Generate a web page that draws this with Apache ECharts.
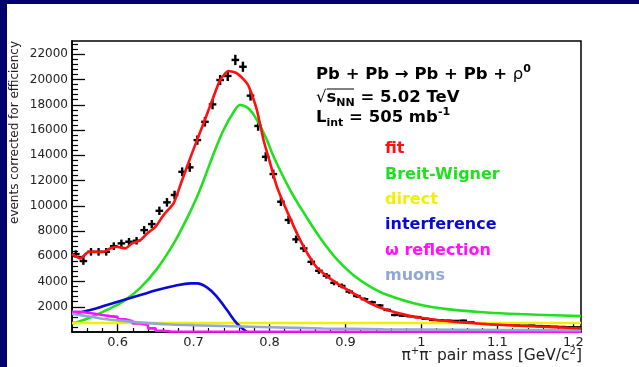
<!DOCTYPE html>
<html><head><meta charset="utf-8">
<script src="https://cdn.jsdelivr.net/npm/echarts@6/dist/echarts.min.js"></script>
<style>html,body{margin:0;padding:0;background:#000070;} #c{width:639px;height:367px;}</style>
</head><body><div id="c"></div>
<script>
// ---- data ----
const massBins = [0.545,0.555,0.565,0.575,0.585,0.595,0.605,0.615,0.625,0.635,0.645,0.655,0.665,0.675,0.685,0.695,0.705,0.715,0.725,0.735,0.745,0.755,0.765,0.775,0.785,0.795,0.805,0.815,0.825,0.835,0.845,0.855,0.865,0.875,0.885,0.895,0.905,0.915,0.925,0.935,0.945,0.955,0.965,0.975,0.985,0.995,1.005,1.015,1.025,1.035,1.045,1.055,1.065,1.075,1.085,1.095,1.105,1.115,1.125,1.135,1.145,1.155,1.165,1.175,1.185,1.195,1.205];
const counts = [6170,5620,6350,6350,6350,6800,7020,7150,7230,8070,8550,9600,10270,10850,12690,13040,15200,16650,18030,19960,20280,21550,21010,18720,16320,13880,12510,10320,8870,7340,6620,5560,4850,4450,3900,3650,3200,2850,2600,2350,2100,1750,1350,1300,1250,1180,1050,950,930,900,880,900,780,700,650,620,600,560,530,500,520,470,450,420,400,380,370];
const errors = [300,300,300,300,300,300,300,300,300,320,320,330,340,340,350,350,370,380,390,400,400,410,400,390,380,360,350,340,320,300,290,270,250,220,200,190,170,150,140,130,120,110,100,100,90,90,80,80,80,70,70,70,60,60,60,50,50,50,50,50,50,50,40,40,40,40,40];
const halfBin = 0.005;

const fitX = [0.540,0.551,0.562,0.5816,0.590,0.599,0.610,0.619,0.630,0.639,0.650,0.6605,0.6737,0.683,0.6979,0.7132,0.7263,0.7351,0.746,0.7571,0.7703,0.7746,0.7834,0.7921,0.8009,0.8097,0.8272,0.8426,0.8579,0.8667,0.8887,0.9105,0.9325,0.9545,0.9763,0.9983,1.0421,1.0861,1.1299,1.1737,1.21];
const fitY = [6170,5830,6350,6350,6620,6750,6620,7020,7280,7810,8340,9260,10190,11700,14150,16530,18640,19960,20670,20490,19700,19170,17580,15210,13360,11510,9000,7020,5440,4850,3850,3060,2270,1735,1395,1125,808,626,491,388,280];

const bwX = [0.540,0.5443,0.564,0.586,0.6079,0.6299,0.6518,0.6737,0.6913,0.7045,0.7132,0.7263,0.7395,0.7526,0.7614,0.7724,0.7834,0.7966,0.8053,0.8272,0.8492,0.8667,0.8887,0.9105,0.9325,0.9545,0.9983,1.0421,1.0861,1.1299,1.1737,1.21];
const bwY = [680,729,1150,1750,2450,3500,5000,7000,9000,10700,12000,14100,16000,17400,17980,17700,16800,15200,13900,11244,9050,7450,5750,4500,3600,2950,2150,1750,1550,1420,1330,1260];

const interfX = [0.540,0.5443,0.5641,0.586,0.608,0.630,0.652,0.674,0.696,0.7045,0.7176,0.7308,0.744,0.757,0.770];
const interfY = [1420,1474,1735,2131,2528,2924,3320,3637,3850,3851,3534,2789,1735,681,0];

const directX = [0.54,1.21];
const directY = [710,710];

const omegaEdges = [0.54,0.55,0.56,0.57,0.58,0.59,0.60,0.61,0.62,0.63,0.64,0.65,0.66,0.67,1.21];
const omegaY = [1600,1520,1450,1350,1260,1200,1000,850,680,550,290,100,40,25,25];

const muonX = [0.54,0.56,0.58,0.60,0.62,0.64,0.67,0.70,0.75,0.80,0.87,0.95,1.05,1.21];
const muonY = [1450,1250,1050,920,800,700,600,540,460,380,280,220,180,140];

const xMajorTicks = [0.6,0.7,0.8,0.9,1.0,1.1,1.2];
const xMinorTicks = [0.56,0.58,0.62,0.64,0.66,0.68,0.72,0.74,0.76,0.78,0.82,0.84,0.86,0.88,0.92,0.94,0.96,0.98,1.02,1.04,1.06,1.08,1.12,1.14,1.16,1.18,1.2];
const yMajorTicks = [2000,4000,6000,8000,10000,12000,14000,16000,18000,20000,22000];
const yMinorTicks = [400,800,1200,1600,2400,2800,3200,3600,4400,4800,5200,5600,6400,6800,7200,7600,8400,8800,9200,9600,10400,10800,11200,11600,12400,12800,13200,13600,14400,14800,15200,15600,16400,16800,17200,17600,18400,18800,19200,19600,20400,20800,21200,21600,22400,22800];

const seriesNames = ['fit','Breit-Wigner','direct','interference','ω reflection','muons'];
const seriesColors = ['#ff1010','#20e020','#f0f000','#0808d8','#ff10ff','#90a8d8'];

// ---- chart ----
const zip = (a,b) => a.map((v,i) => [v,b[i]]);
const chart = echarts.init(document.getElementById('c'), null, {renderer:'canvas'});
const FF = 'DejaVu Sans';
const lineSeries = (idx, xs, ys, extra) => Object.assign({
  name: seriesNames[idx], type:'line', data: zip(xs, ys), showSymbol:false, symbol:'none',
  smooth: false, lineStyle:{color: seriesColors[idx], width:2.6}, itemStyle:{color: seriesColors[idx]},
  xAxisIndex:0, yAxisIndex:0, silent:true, clip:true
}, extra || {});

chart.setOption({
  animation:false,
  backgroundColor:'#000070',
  grid:{left:72, right:58, top:41, bottom:35, show:true, borderColor:'#000', borderWidth:1.5, backgroundColor:'#fff'},
  xAxis:[
    {type:'value', min:0.54, max:1.21, position:'bottom',
     axisLine:{lineStyle:{color:'#000', width:1.5}},
     axisTick:{inside:true, length:8, customValues:xMajorTicks, lineStyle:{color:'#000', width:1.3}},
     axisLabel:{customValues:xMajorTicks, color:'#222', fontFamily:FF, fontSize:13, margin:4, formatter: v => String(v)},
     splitLine:{show:false}},
    {type:'value', min:0.54, max:1.21, position:'bottom',
     axisLine:{show:false},
     axisTick:{inside:true, length:4, customValues:xMinorTicks, lineStyle:{color:'#000', width:1.2}},
     axisLabel:{show:false}, splitLine:{show:false}}
  ],
  yAxis:[
    {type:'value', min:0, max:23050, position:'left',
     axisLine:{show:true, lineStyle:{color:'#000', width:1.5}},
     axisTick:{show:true, inside:true, length:13, customValues:yMajorTicks, lineStyle:{color:'#000', width:1.3}},
     axisLabel:{customValues:yMajorTicks, color:'#222', fontFamily:FF, fontSize:12, margin:4, formatter: v => String(v)},
     splitLine:{show:false}},
    {type:'value', min:0, max:23050, position:'left',
     axisLine:{show:false},
     axisTick:{show:true, inside:true, length:6, customValues:yMinorTicks, lineStyle:{color:'#000', width:1.2}},
     axisLabel:{show:false}, splitLine:{show:false}}
  ],
  legend:{orient:'vertical', left:380, top:139, padding:0, itemWidth:0, itemHeight:0, itemGap:5.4, icon:'rect', selectedMode:false,
    data: seriesNames.map((n,i) => ({name:n, textStyle:{color:seriesColors[i]}})),
    textStyle:{fontFamily:FF, fontWeight:'bold', fontSize:16, lineHeight:20}},
  graphic:[
    {type:'rect', z:-100, silent:true, shape:{x:7, y:4, width:632, height:363}, style:{fill:'#ffffff'}},
    {type:'text', x:316, y:64, silent:true, style:{
      text:'{b|Pb + Pb → Pb + Pb + }{g|ρ}{s|0}',
      rich:{b:{fontFamily:FF, fontWeight:'bold', fontSize:16.5, lineHeight:22, fill:'#000'},
            g:{fontFamily:FF, fontSize:16.5, lineHeight:22, fill:'#000'},
            s:{fontFamily:FF, fontWeight:'bold', fontSize:11, lineHeight:11, verticalAlign:'top', fill:'#000'}}}},
    {type:'text', x:316, y:87, silent:true, style:{
      text:'{g|√}{b|s}{d|NN}{b| = 5.02 TeV}',
      rich:{b:{fontFamily:FF, fontWeight:'bold', fontSize:16.5, lineHeight:22, fill:'#000'},
            g:{fontFamily:FF, fontSize:16.5, lineHeight:22, fill:'#000'},
            d:{fontFamily:FF, fontWeight:'bold', fontSize:11, lineHeight:11, verticalAlign:'bottom', fill:'#000'}}}},
    {type:'line', silent:true, shape:{x1:327, y1:89, x2:354, y2:89}, style:{stroke:'#000', lineWidth:1}},
    {type:'text', x:316, y:107, silent:true, style:{
      text:'{b|L}{d|int}{b| = 505 mb}{s|-1}',
      rich:{b:{fontFamily:FF, fontWeight:'bold', fontSize:16.5, lineHeight:22, fill:'#000'},
            d:{fontFamily:FF, fontWeight:'bold', fontSize:11, lineHeight:11, verticalAlign:'bottom', fill:'#000'},
            s:{fontFamily:FF, fontWeight:'bold', fontSize:11, lineHeight:11, verticalAlign:'top', fill:'#000'}}}},
    {type:'text', x:582, y:346, silent:true, style:{
      align:'right',
      text:'{n|π}{s|+}{n|π}{s|-}{n| pair mass [GeV/c}{s|2}{n|]}',
      rich:{n:{fontFamily:FF, fontSize:15.5, lineHeight:20, fill:'#222'},
            s:{fontFamily:FF, fontSize:10, lineHeight:10, verticalAlign:'top', fill:'#222'}}}},
    {type:'text', x:15, y:41, rotation:Math.PI/2, silent:true, style:{
      text:'events corrected for efficiency', align:'right', verticalAlign:'middle',
      fontFamily:FF, fontSize:12, fill:'#222'}}
  ],
  series:[
    {name:'data', type:'custom', xAxisIndex:0, yAxisIndex:0, silent:true, z:2,
     data: massBins.map((x,i) => [x, counts[i], errors[i]]),
     encode:{x:0, y:1},
     renderItem(params, api){
       const x = api.value(0), y = api.value(1), e = api.value(2);
       const l = api.coord([x - halfBin, y]), r = api.coord([x + halfBin, y]);
       const t = api.coord([x, y + e]), b = api.coord([x, y - e]);
       const st = {stroke:'#000', lineWidth:2.4};
       return {type:'group', children:[
         {type:'line', shape:{x1:l[0], y1:l[1], x2:r[0], y2:r[1]}, style:st},
         {type:'line', shape:{x1:t[0], y1:t[1], x2:b[0], y2:b[1]}, style:st}
       ]};
     }},
    lineSeries(1, bwX, bwY, {z:3, smooth:0.4}),
    lineSeries(2, directX, directY, {z:3}),
    lineSeries(3, interfX, interfY, {z:3, smooth:0.4}),
    lineSeries(4, omegaEdges, omegaY, {z:4, step:'end'}),
    lineSeries(5, muonX, muonY, {z:4, smooth:0.3}),
    lineSeries(0, fitX, fitY, {z:5, smooth:0.2})
  ]
});
</script>
</body></html>
